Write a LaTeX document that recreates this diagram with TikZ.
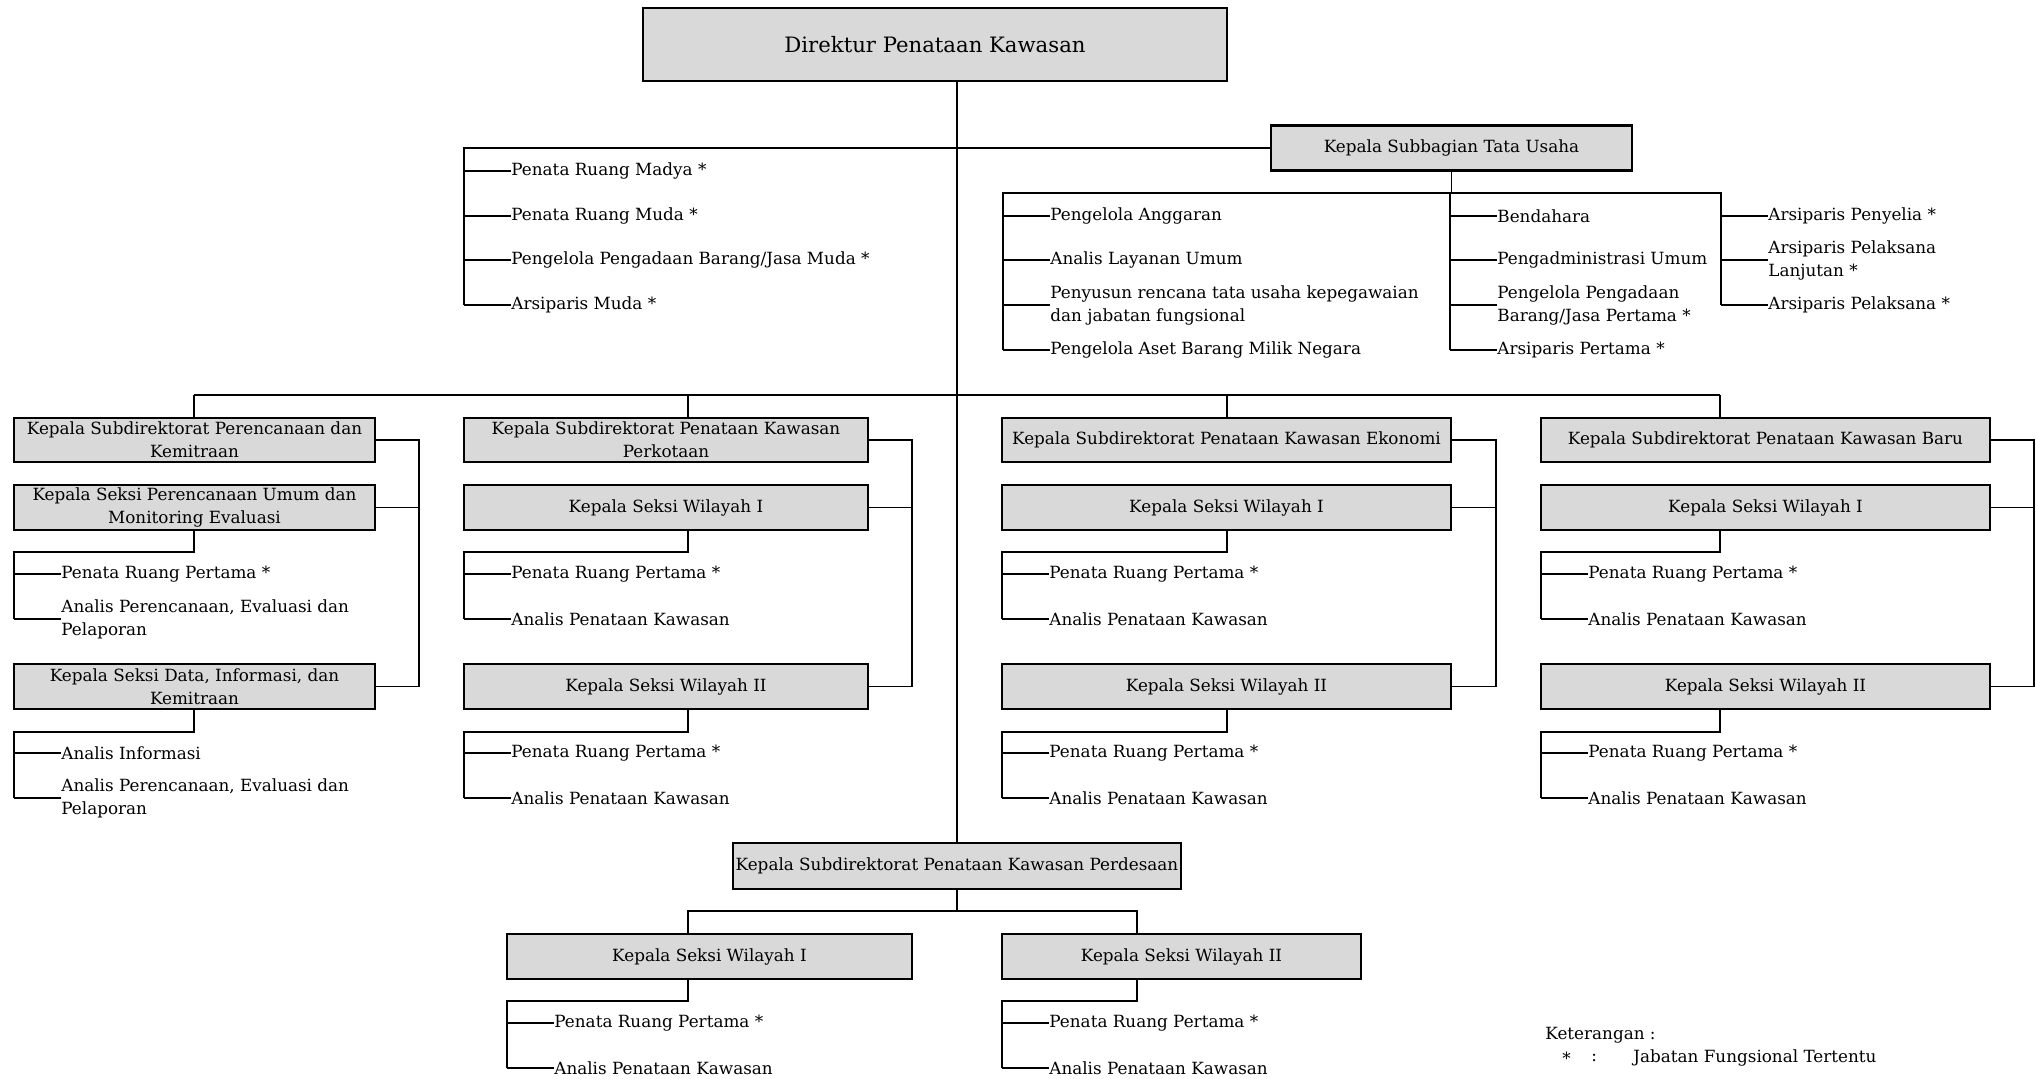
\documentclass[tikz,border=0pt]{standalone}
\usepackage{fontspec}
\setmainfont{DejaVu Serif}
\definecolor{boxgray}{HTML}{D9D9D9}
\newcommand\itm[4]{%
  \node[item] (#1) at ({#2+47},#3) {#4};
  \draw[ln] (#2,#3) -- (#1.west);}
\begin{document}
\begin{tikzpicture}[x=0.5pt,y=-0.5pt,
  txt/.style={font=\fontsize{8.4}{11.5}\selectfont},
  box/.style={draw, line width=1.1pt, fill=boxgray, inner sep=0pt, align=center, txt},
  ln/.style={line width=0.85pt},
  item/.style={anchor=west, inner sep=0pt, align=left, txt}]
\useasboundingbox (0,0) rectangle (2036,1079);
% top
\node[box, minimum width=292pt, minimum height=36.5pt, font=\fontsize{10.6}{13}\selectfont] (dir) at (935,44.5) {Direktur Penataan Kawasan};
\node[box, minimum width=180.5pt, minimum height=22.5pt] (tu) at (1451.5,148) {Kepala Subbagian Tata Usaha};
% subdirektorat row
\node[box, minimum width=180.5pt, minimum height=22pt] (s1) at (194.5,440) {Kepala Subdirektorat Perencanaan dan\\Kemitraan};
\node[box, minimum width=202pt, minimum height=22pt] (s2) at (666,440) {Kepala Subdirektorat Penataan Kawasan\\Perkotaan};
\node[box, minimum width=224.5pt, minimum height=22pt] (s3) at (1226.5,440) {Kepala Subdirektorat Penataan Kawasan Ekonomi};
\node[box, minimum width=224.5pt, minimum height=22pt] (s4) at (1765.5,440) {Kepala Subdirektorat Penataan Kawasan Baru};
% seksi row 1
\node[box, minimum width=180.5pt, minimum height=22.5pt] (a1) at (194.5,507.5) {Kepala Seksi Perencanaan Umum dan\\Monitoring Evaluasi};
\node[box, minimum width=202pt, minimum height=22.5pt] (a2) at (666,507.5) {Kepala Seksi Wilayah I};
\node[box, minimum width=224.5pt, minimum height=22.5pt] (a3) at (1226.5,507.5) {Kepala Seksi Wilayah I};
\node[box, minimum width=224.5pt, minimum height=22.5pt] (a4) at (1765.5,507.5) {Kepala Seksi Wilayah I};
% seksi row 2
\node[box, minimum width=180.5pt, minimum height=22.5pt] (b1) at (194.5,686.5) {Kepala Seksi Data, Informasi, dan\\Kemitraan};
\node[box, minimum width=202pt, minimum height=22.5pt] (b2) at (666,686.5) {Kepala Seksi Wilayah II};
\node[box, minimum width=224.5pt, minimum height=22.5pt] (b3) at (1226.5,686.5) {Kepala Seksi Wilayah II};
\node[box, minimum width=224.5pt, minimum height=22.5pt] (b4) at (1765.5,686.5) {Kepala Seksi Wilayah II};
% perdesaan
\node[box, minimum width=224pt, minimum height=23pt] (per) at (957,866) {Kepala Subdirektorat Penataan Kawasan Perdesaan};
\node[box, minimum width=202.5pt, minimum height=22.5pt] (p1) at (709.5,956.5) {Kepala Seksi Wilayah I};
\node[box, minimum width=179.5pt, minimum height=22.5pt] (p2) at (1181.5,956.5) {Kepala Seksi Wilayah II};

% helper coordinates
\coordinate (tr) at (957,0);
\coordinate (d1) at (194,0); \coordinate (d2) at (688,0);
\coordinate (d3) at (1227,0); \coordinate (d4) at (1720,0);
\coordinate (k1) at (419,0); \coordinate (k2) at (912,0);
\coordinate (k3) at (1496,0); \coordinate (k4) at (2034,0);
\coordinate (pd1) at (688,0); \coordinate (pd2) at (1137,0);
\coordinate (rowy) at (0,395);

% trunk
\draw[ln] (dir.south -| tr) -- (per.north);
% staff bracket
\coordinate (sj) at (957,148);
\draw[ln] (sj) -- (464,148) -- (464,305);
\itm{st1}{464}{171}{Penata Ruang Madya *}
\itm{st2}{464}{216}{Penata Ruang Muda *}
\itm{st3}{464}{260}{Pengelola Pengadaan Barang/Jasa Muda *}
\itm{st4}{464}{305}{Arsiparis Muda *}
% tata usaha
\draw[ln] (sj) -- (tu.west);
\draw[ln] (tu.south) -- (tu.south |- 0,193);
\draw[ln] (1003,350) -- (1003,193) -- (1721,193) -- (1721,305);
\draw[ln] (1450,193) -- (1450,350);
\itm{tl1}{1003}{216}{Pengelola Anggaran}
\itm{tl2}{1003}{260}{Analis Layanan Umum}
\itm{tl3}{1003}{305}{Penyusun rencana tata usaha kepegawaian\\dan jabatan fungsional}
\itm{tl4}{1003}{350}{Pengelola Aset Barang Milik Negara}
\itm{tm1}{1450}{216}{Bendahara}
\itm{tm2}{1450}{260}{Pengadministrasi Umum}
\itm{tm3}{1450}{305}{Pengelola Pengadaan\\Barang/Jasa Pertama *}
\itm{tm4}{1450}{350}{Arsiparis Pertama *}
\itm{tr1}{1721}{216}{Arsiparis Penyelia *}
\itm{tr2}{1721}{260}{Arsiparis Pelaksana\\Lanjutan *}
\itm{tr3}{1721}{305}{Arsiparis Pelaksana *}

% row line and drops
\draw[ln] (d1 |- rowy) -- (d4 |- rowy);
\draw[ln] (s1.north -| d1) -- (d1 |- rowy);
\draw[ln] (s2.north -| d2) -- (d2 |- rowy);
\draw[ln] (s3.north -| d3) -- (d3 |- rowy);
\draw[ln] (s4.north -| d4) -- (d4 |- rowy);

% right brackets
\draw[ln] (s1.east) -| (k1 |- b1.east) -- (b1.east);
\draw[ln] (a1.east) -- (a1.east -| k1);
\draw[ln] (s2.east) -| (k2 |- b2.east) -- (b2.east);
\draw[ln] (a2.east) -- (a2.east -| k2);
\draw[ln] (s3.east) -| (k3 |- b3.east) -- (b3.east);
\draw[ln] (a3.east) -- (a3.east -| k3);
\draw[ln] (s4.east) -| (k4 |- b4.east) -- (b4.east);
\draw[ln] (a4.east) -- (a4.east -| k4);

% column 1 subtrees
\draw[ln] (a1.south -| d1) |- (14,552) -- (14,619);
\itm{c1a}{14}{574}{Penata Ruang Pertama *}
\itm{c1b}{14}{619}{Analis Perencanaan, Evaluasi dan\\Pelaporan}
\draw[ln] (b1.south -| d1) |- (14,732) -- (14,798);
\itm{c1c}{14}{753}{Analis Informasi}
\itm{c1d}{14}{798}{Analis Perencanaan, Evaluasi dan\\Pelaporan}
% column 2
\draw[ln] (a2.south -| d2) |- (464,552) -- (464,619);
\itm{c2a}{464}{574}{Penata Ruang Pertama *}
\itm{c2b}{464}{619}{Analis Penataan Kawasan}
\draw[ln] (b2.south -| d2) |- (464,732) -- (464,798);
\itm{c2c}{464}{753}{Penata Ruang Pertama *}
\itm{c2d}{464}{798}{Analis Penataan Kawasan}
% column 3
\draw[ln] (a3.south -| d3) |- (1002,552) -- (1002,619);
\itm{c3a}{1002}{574}{Penata Ruang Pertama *}
\itm{c3b}{1002}{619}{Analis Penataan Kawasan}
\draw[ln] (b3.south -| d3) |- (1002,732) -- (1002,798);
\itm{c3c}{1002}{753}{Penata Ruang Pertama *}
\itm{c3d}{1002}{798}{Analis Penataan Kawasan}
% column 4
\draw[ln] (a4.south -| d4) |- (1541,552) -- (1541,619);
\itm{c4a}{1541}{574}{Penata Ruang Pertama *}
\itm{c4b}{1541}{619}{Analis Penataan Kawasan}
\draw[ln] (b4.south -| d4) |- (1541,732) -- (1541,798);
\itm{c4c}{1541}{753}{Penata Ruang Pertama *}
\itm{c4d}{1541}{798}{Analis Penataan Kawasan}

% perdesaan
\draw[ln] (per.south) -- (per.south |- 0,911);
\draw[ln] (p1.north -| pd1) |- (pd2 |- 0,911) -- (p2.north -| pd2);
\draw[ln] (p1.south -| pd1) |- (507,1001) -- (507,1068);
\itm{q1a}{507}{1023}{Penata Ruang Pertama *}
\itm{q1b}{507}{1068}{Analis Penataan Kawasan}
\draw[ln] (p2.south -| pd2) |- (1002,1001) -- (1002,1068);
\itm{q2a}{1002}{1023}{Penata Ruang Pertama *}
\itm{q2b}{1002}{1068}{Analis Penataan Kawasan}

% legend
\node[item] (ket) at (1545,1035) {Keterangan :};
\node[item] (star) at (1562,1058) {*};
\node[item] (col) at (1591,1058) {:};
\node[item] (jft) at (1633,1058) {Jabatan Fungsional Tertentu};
\end{tikzpicture}
\end{document}
